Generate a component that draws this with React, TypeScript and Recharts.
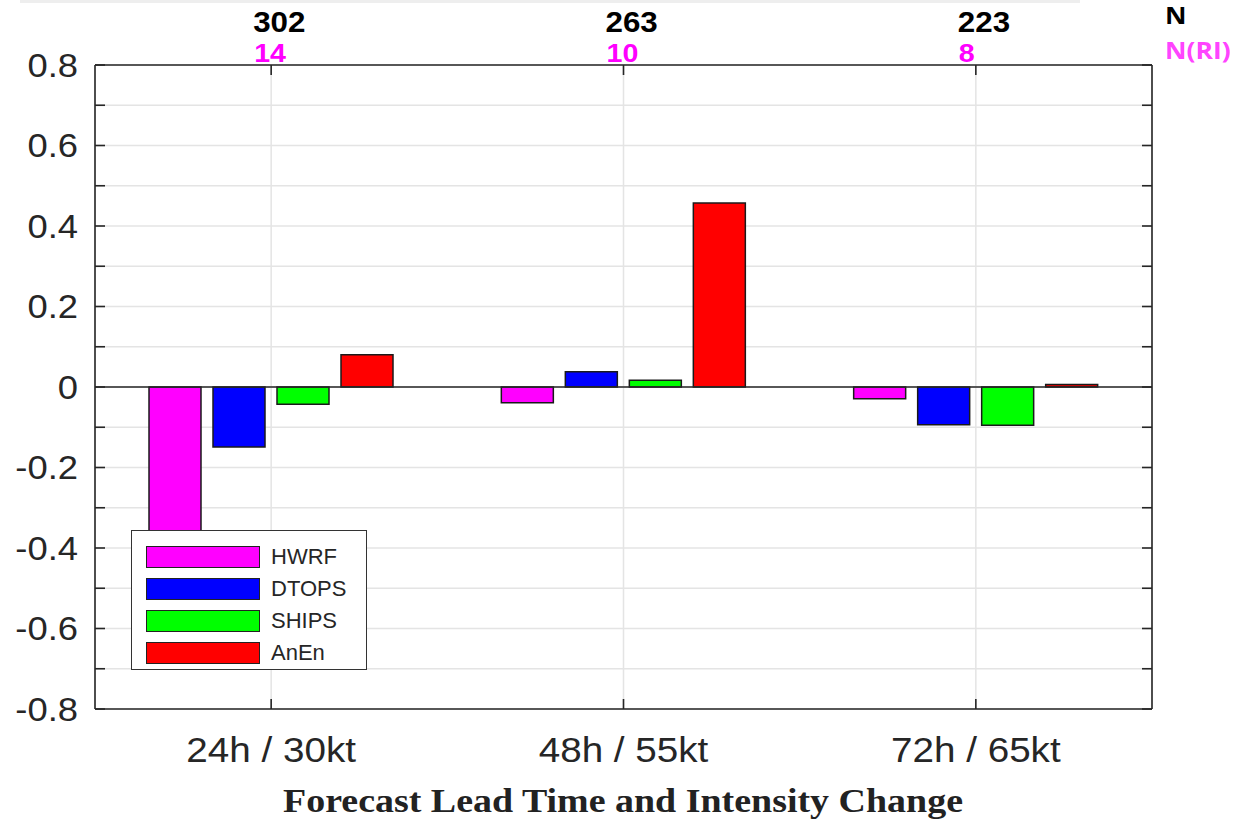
import { Bar, BarChart, CartesianGrid, ReferenceLine, XAxis, YAxis } from "recharts";

const CATEGORIES = ["24h / 30kt", "48h / 55kt", "72h / 65kt"];
const HWRF = [-0.5, -0.039, -0.029];
const DTOPS = [-0.149, 0.038, -0.094];
const SHIPS = [-0.043, 0.017, -0.095];
const ANEN = [0.08, 0.457, 0.006];
const N_ALL = [302, 263, 223];
const N_RI = [14, 10, 8];
const Y_TICKS = [-0.8, -0.7, -0.6, -0.5, -0.4, -0.3, -0.2, -0.1, 0, 0.1, 0.2, 0.3, 0.4, 0.5, 0.6, 0.7, 0.8];

const SERIES = [
  { key: "hwrf", name: "HWRF", color: "#ff00ff" },
  { key: "dtops", name: "DTOPS", color: "#0000ff" },
  { key: "ships", name: "SHIPS", color: "#00ff00" },
  { key: "anen", name: "AnEn", color: "#ff0000" },
];

const data = CATEGORIES.map((cat, i) => ({
  cat,
  hwrf: HWRF[i],
  dtops: DTOPS[i],
  ships: SHIPS[i],
  anen: ANEN[i],
}));

const AXIS = "#262626";
const SANS = "'Liberation Sans', Arial, Helvetica, sans-serif";
// the source picture is a little stretched sideways
const STRETCH = 1.12;

function LeftTick({ x, y, payload }: any) {
  const v = payload.value as number;
  const major = Math.round(v * 10) % 2 === 0;
  return (
    <g>
      <line x1={x} x2={x + 10} y1={y} y2={y} stroke={AXIS} strokeWidth={1.6} />
      {major && (
        <text
          transform={`translate(${x - 17},${y}) scale(${STRETCH},1)`}
          dy="0.36em"
          textAnchor="end"
          fontSize={32.5}
          fontFamily={SANS}
          fill={AXIS}
        >
          {v === 0 ? "0" : v.toFixed(1)}
        </text>
      )}
    </g>
  );
}

function RightTick({ x, y }: any) {
  return <line x1={x - 10} x2={x} y1={y} y2={y} stroke={AXIS} strokeWidth={1.6} />;
}

function BottomTick({ x, y, payload }: any) {
  return (
    <g>
      <line x1={x} x2={x} y1={y} y2={y - 10} stroke={AXIS} strokeWidth={1.6} />
      <text
        transform={`translate(${x},${y + 53}) scale(${STRETCH},1)`}
        textAnchor="middle"
        fontSize={34.5}
        fontFamily={SANS}
        fill={AXIS}
      >
        {payload.value}
      </text>
    </g>
  );
}

function TopTick({ x, y, index }: any) {
  return (
    <g>
      <line x1={x} x2={x} y1={y} y2={y + 10} stroke={AXIS} strokeWidth={1.6} />
      <text
        transform={`translate(${x - 18},${y - 33}) scale(1.08,1)`}
        fontSize={29}
        fontWeight="bold"
        fontFamily={SANS}
        fill="#000"
      >
        {N_ALL[index]}
      </text>
      <text
        transform={`translate(${x - 17},${y - 3}) scale(1.08,1)`}
        fontSize={26.5}
        fontWeight="bold"
        fontFamily={SANS}
        fill="#ff00ff"
      >
        {N_RI[index]}
      </text>
    </g>
  );
}

function LegendBox() {
  return (
    <div
      style={{
        position: "absolute",
        left: 131,
        top: 530,
        width: 234,
        height: 128,
        background: "#fff",
        border: "1.5px solid #333",
        paddingTop: 10,
        boxSizing: "content-box",
      }}
    >
      {SERIES.map((s) => (
        <div key={s.key} style={{ display: "flex", alignItems: "center", height: 32, marginLeft: 14 }}>
          <span
            style={{
              width: 112,
              height: 20,
              background: s.color,
              border: "1.5px solid #222",
              boxSizing: "content-box",
            }}
          />
          <span style={{ marginLeft: 11, fontSize: 22, fontFamily: SANS, color: AXIS }}>{s.name}</span>
        </div>
      ))}
    </div>
  );
}

export default function App() {
  return (
    <div style={{ position: "relative", width: 1256, height: 821, overflow: "hidden", background: "#fff" }}>
      <style>{"body{margin:0}"}</style>
      <div style={{ position: "absolute", left: 20, top: 0, width: 1060, height: 3, background: "#eeeeee" }} />
      <BarChart
        width={1256}
        height={821}
        data={data}
        margin={{ top: 64, right: 103, bottom: 111, left: 94 }}
        barCategoryGap={54}
        barGap={12}
      >
        <CartesianGrid stroke="#e4e4e4" strokeWidth={1.5} />
        <XAxis
          dataKey="cat"
          height={1}
          tickSize={0}
          tickMargin={0}
          tickLine={false}
          axisLine={{ stroke: AXIS, strokeWidth: 1.6 }}
          tick={<BottomTick />}
          interval={0}
        />
        <XAxis
          xAxisId="top"
          dataKey="cat"
          orientation="top"
          height={1}
          tickSize={0}
          tickMargin={0}
          tickLine={false}
          axisLine={{ stroke: AXIS, strokeWidth: 1.6 }}
          tick={<TopTick />}
          interval={0}
        />
        <YAxis
          type="number"
          domain={[-0.8, 0.8]}
          ticks={Y_TICKS}
          allowDataOverflow
          width={1}
          tickSize={0}
          tickMargin={0}
          tickLine={false}
          axisLine={{ stroke: AXIS, strokeWidth: 1.6 }}
          tick={<LeftTick />}
          interval={0}
        />
        <YAxis
          yAxisId="right"
          orientation="right"
          type="number"
          domain={[-0.8, 0.8]}
          ticks={Y_TICKS}
          allowDataOverflow
          width={1}
          tickSize={0}
          tickMargin={0}
          tickLine={false}
          axisLine={{ stroke: AXIS, strokeWidth: 1.6 }}
          tick={<RightTick />}
          interval={0}
        />
        {SERIES.map((s) => (
          <Bar
            key={s.key}
            dataKey={s.key}
            name={s.name}
            fill={s.color}
            stroke="#1a1a1a"
            strokeWidth={1.5}
            isAnimationActive={false}
          />
        ))}
        <ReferenceLine y={0} stroke={AXIS} strokeWidth={1.6} />
      </BarChart>
      <LegendBox />
      <div
        style={{
          position: "absolute",
          left: 1165,
          top: 0,
          fontFamily: "'Open Sans', sans-serif",
          fontWeight: 700,
          fontSize: 23,
          lineHeight: "31px",
          transform: "scaleX(1.15)",
          transformOrigin: "left top",
        }}
      >
        <div style={{ color: "#000" }}>N</div>
        <div style={{ color: "#ff44ff", marginTop: 4 }}>N(RI)</div>
      </div>
      <div
        style={{
          position: "absolute",
          left: 0,
          width: 1246,
          top: 780,
          textAlign: "center",
          fontFamily: "'Liberation Serif', 'Times New Roman', serif",
          fontWeight: 700,
          fontSize: 34.5,
          lineHeight: "40px",
          color: "#222",
          transform: "scaleX(1.1)",
          transformOrigin: "623px 0",
        }}
      >
        Forecast Lead Time and Intensity Change
      </div>
    </div>
  );
}
